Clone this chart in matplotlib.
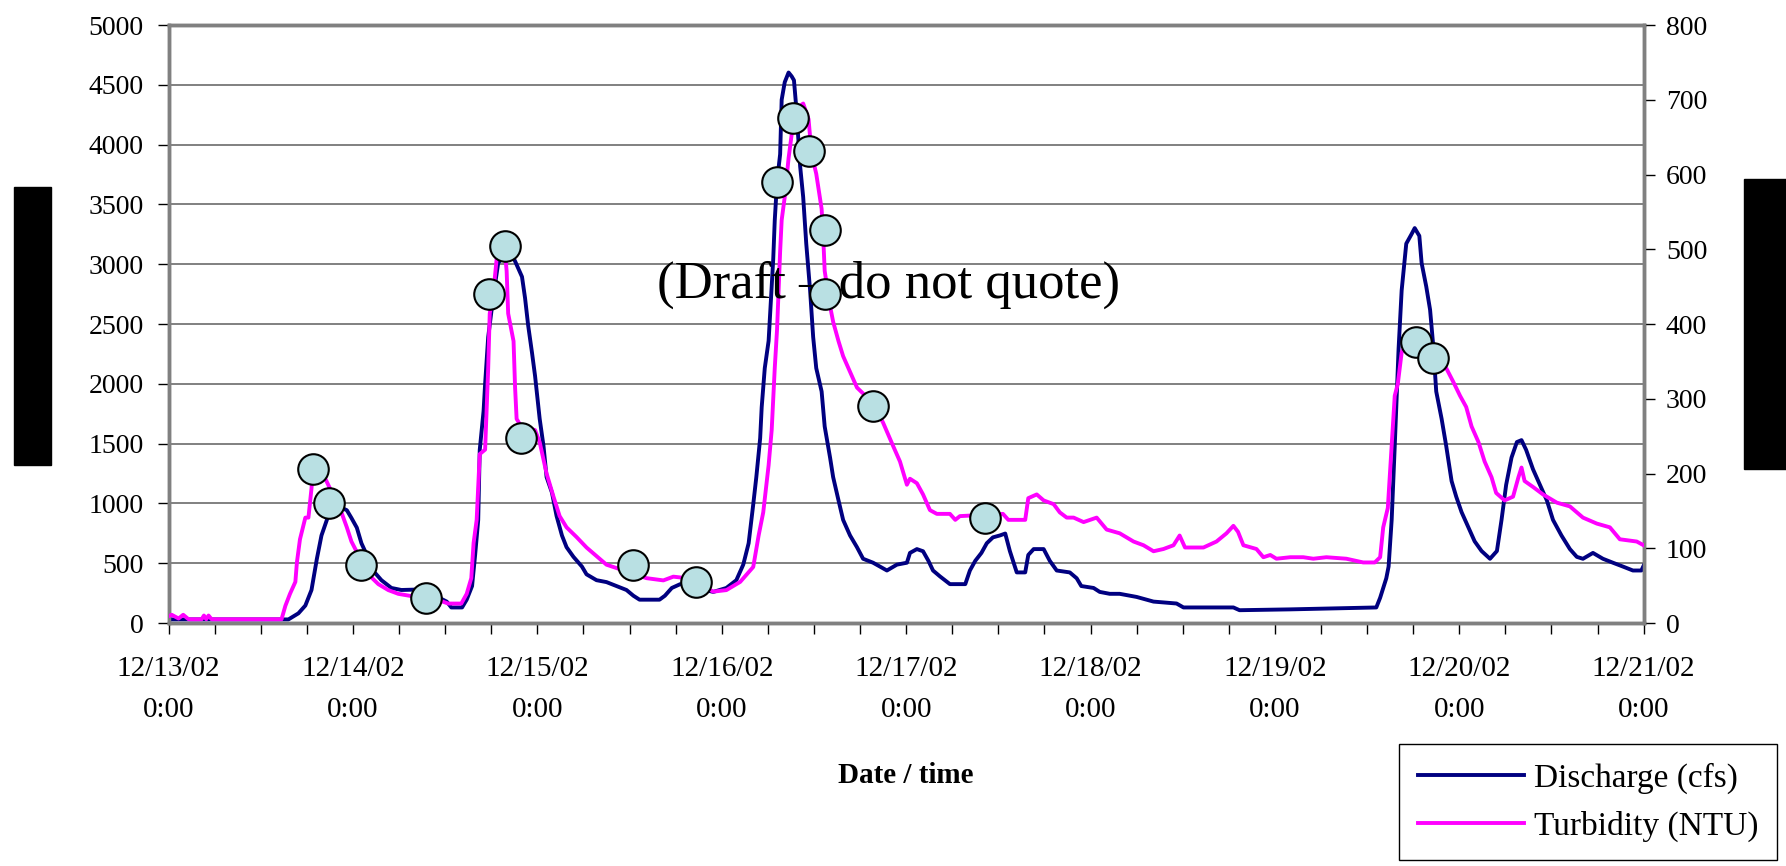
import pandas as pd
import matplotlib
matplotlib.use("Agg")
import matplotlib.pyplot as plt
import matplotlib.dates as mdates
from matplotlib.patches import Rectangle
from matplotlib.ticker import FuncFormatter, MultipleLocator

plt.rcParams['font.family'] = ['Liberation Serif', 'DejaVu Serif']

START = pd.Timestamp('2002-12-13 00:00')

# discharge (cfs), hours after 12/13/02 0:00
q_hours = [0, 14.7, 15.6, 16.9, 17.8, 18.6, 19.3, 19.9, 20.6, 21.0, 22.1, 23.2, 23.8,
           24.5, 25.1, 25.8, 26.6, 27.7, 29.0, 30.3, 32.5, 34.2, 36.2, 36.8, 38.2,
           38.8, 39.5, 39.9, 40.3, 40.5, 41.0, 41.2, 41.6, 42.3, 42.9, 44.3, 45.1,
           46.0, 46.4, 46.8, 47.3, 47.7, 48.3, 48.8, 49.2, 49.9, 50.5, 51.2, 51.8,
           52.7, 53.8, 54.4, 55.7, 57.0, 58.3, 59.6, 60.5, 61.3, 63.9, 64.6, 65.5,
           66.6, 70.9, 72.6, 73.9, 74.8, 75.5, 76.1, 76.5, 77.0, 77.2, 77.6, 78.1,
           78.3, 78.7, 78.9, 79.2, 79.6, 79.8, 80.2, 80.7, 81.1, 81.4, 81.7, 82.2,
           82.6, 83.0, 83.5, 83.9, 84.3, 85.0, 85.4, 86.1, 86.5, 87.2, 87.8, 88.7,
           89.6, 90.4, 91.7, 92.6, 93.5, 94.8, 96.1, 96.5, 97.4, 98.2, 98.9, 99.5,
           100.4, 101.7, 103.7, 104.3, 105.0, 105.8, 106.5, 107.3, 108.2, 108.9,
           109.5, 110.4, 111.5, 111.9, 112.6, 113.9, 114.7, 115.6, 117.3, 118.2,
           118.8, 120.4, 121.2, 122.5, 123.8, 126.0, 128.2, 131.2, 132.1, 138.6,
           139.4, 146.0, 157.2, 157.7, 158.5, 158.8, 159.2, 159.6, 160.1, 160.5,
           161.1, 161.8, 162.2, 162.8, 163.1, 163.7, 164.2, 164.6, 165.0, 165.7,
           166.3, 167.0, 167.6, 168.3, 169.2, 170.0, 170.9, 172.0, 172.9, 173.5,
           174.1, 174.8, 175.5, 176.1, 176.7, 177.6, 178.5, 179.4, 180.2, 181.3,
           182.4, 183.3, 184.1, 185.4, 186.7, 188.0, 189.3, 190.6, 191.7, 192.0]
discharge = [30, 30, 30, 81, 146, 276, 537, 732, 862, 960, 976, 943, 878,
             797, 667, 569, 439, 358, 293, 276, 280, 244, 179, 130, 130,
             195, 309, 569, 862, 1448, 1773, 2000, 2391, 2750, 3009, 3130, 3025,
             2895, 2716, 2489, 2261, 2066, 1708, 1480, 1220, 1090, 895, 732, 634,
             553, 472, 407, 358, 342, 309, 276, 228, 195, 195, 228, 293,
             325, 260, 293, 358, 488, 667, 992, 1220, 1545, 1805, 2131, 2359,
             2586, 3041, 3367, 3692, 3920, 4375, 4522, 4603, 4571, 4538, 4310, 3822,
             3562, 3172, 2781, 2391, 2131, 1936, 1643, 1383, 1220, 1025, 862, 732,
             634, 537, 504, 472, 439, 488, 504, 586, 618, 600, 520, 439,
             390, 325, 325, 439, 520, 586, 667, 716, 732, 748,
             602, 423, 423, 569, 618, 618, 520, 439, 423, 374,
             309, 293, 260, 244, 244, 218, 179, 163, 130, 130,
             107, 114, 130, 211, 374, 472, 862, 1480, 2293, 2781,
             3172, 3253, 3302, 3237, 3009, 2814, 2619, 2326, 1936, 1708,
             1480, 1187, 1057, 927, 797, 683, 602, 537, 602, 862,
             1155, 1383, 1513, 1529, 1448, 1285, 1155, 1025, 862, 732,
             618, 553, 537, 586, 537, 504, 472, 439, 439, 480]

# turbidity (NTU)
t_hours = [0, 0.4, 1.3, 1.9, 2.6, 4.3, 4.6, 4.9, 5.2, 5.6, 14.7, 15.2, 15.8, 16.5,
           16.7, 17.1, 17.8, 18.2, 18.6, 18.8, 19.5, 20.4, 22.5, 23.2, 23.8, 24.7,
           26.0, 27.3, 28.6, 29.9, 31.6, 34.2, 36.4, 38.1, 38.8, 39.4, 39.7, 40.1,
           40.5, 41.2, 41.6, 41.8, 42.3, 42.7, 43.3, 43.7, 44.0, 44.2, 44.9, 45.1,
           45.3, 45.9, 47.7, 48.3, 49.2, 50.1, 50.9, 51.8, 53.1, 54.4, 56.1, 57.0,
           62.2, 64.4, 65.7, 67.4, 70.9, 72.6, 74.4, 76.1, 76.8, 77.4, 78.1, 78.5,
           78.9, 79.2, 79.4, 79.6, 79.8, 80.2, 80.7, 81.3, 82.0, 82.6, 83.3, 83.7,
           84.3, 85.0, 85.2, 85.4, 86.1, 86.5, 87.2, 87.8, 88.7, 89.6, 91.7, 93.0,
           94.3, 95.2, 96.1, 96.5, 97.4, 98.2, 99.1, 100.0, 101.7, 102.4, 103.0,
           108.6, 109.3, 111.5, 111.9, 113.0, 113.9, 115.2, 116.0, 116.9, 117.8,
           119.1, 120.8, 122.1, 123.8, 125.6, 126.9, 128.2, 129.5, 130.8, 131.6,
           132.3, 134.7, 136.4, 137.7, 138.6, 139.2, 139.9, 141.6, 142.5, 143.4,
           144.2, 146.0, 147.7, 149.0, 150.7, 153.3, 155.5, 157.0, 157.7, 158.1,
           158.7, 159.2, 159.6, 160.0, 160.5, 160.9, 162.4, 165.0, 166.3, 167.2,
           168.1, 168.9, 169.6, 170.5, 171.3, 172.2, 172.8, 173.9, 175.0, 175.7,
           176.1, 176.5, 177.6, 178.9, 180.7, 182.4, 184.1, 185.9, 187.6, 188.9,
           191.1, 192.0]
turbidity = [9, 11, 6, 11, 5, 5, 10, 5, 10, 5, 5, 23, 39, 55,
             81, 112, 141, 141, 180, 206, 206, 193, 148, 128, 109, 91,
             65, 52, 44, 39, 36, 34, 26, 26, 39, 60, 107, 138,
             226, 232, 341, 414, 445, 487, 497, 505, 471, 414, 377, 315,
             273, 263, 258, 242, 200, 169, 143, 128, 115, 101, 86, 78,
             60, 57, 62, 60, 42, 44, 55, 75, 117, 148, 211, 258,
             341, 393, 445, 497, 539, 570, 622, 669, 690, 695, 674, 627,
             601, 554, 518, 471, 424, 403, 377, 357, 336, 315, 294, 268,
             237, 216, 185, 193, 187, 172, 151, 146, 146, 138, 143,
             146, 138, 138, 167, 172, 164, 159, 148, 141, 141,
             135, 141, 125, 120, 109, 104, 96, 99, 104, 117,
             101, 101, 109, 120, 130, 122, 104, 99, 88, 91,
             86, 88, 88, 86, 88, 86, 81, 81, 88, 128,
             154, 237, 304, 320, 362, 370, 376, 357, 341, 323,
             304, 289, 263, 242, 216, 195, 174, 164, 169, 195,
             208, 190, 182, 172, 161, 156, 141, 133, 128, 112,
             109, 104]

# sample points (NTU)
s_hours = [18.8, 20.9, 25.0, 33.5, 41.7, 43.8, 45.9, 60.5, 68.7, 79.2, 81.3,
           83.4, 85.5, 85.5, 91.7, 106.3, 162.4, 164.6]
samples = [206, 161, 77, 34, 440, 505, 247, 77, 55, 590, 676,
           632, 526, 440, 290, 141, 376, 354]


def to_time(h):
    return START + pd.to_timedelta(h, unit='h')


fig = plt.figure(figsize=(17.86, 8.66), dpi=100)
ax = fig.add_axes([0.0944, 0.2806, 0.8259, 0.6905])
ax2 = ax.twinx()

l1, = ax.plot(to_time(q_hours), discharge, color='#000080', lw=2.8, zorder=3)
l2, = ax2.plot(to_time(t_hours), turbidity, color='#ff00ff', lw=2.8, zorder=3)
ax2.plot(to_time(s_hours), samples, 'o', ms=22, mfc='#b9e0e3', mec='black',
         mew=1.5, zorder=6)

ax.set_xlim(START, START + pd.Timedelta(days=8))
ax.set_ylim(0, 5000)
ax2.set_ylim(0, 800)
ax.yaxis.set_major_locator(MultipleLocator(500))
ax2.yaxis.set_major_locator(MultipleLocator(100))
ax.grid(axis='y', color='#808080', lw=1.4)
ax.set_axisbelow(True)

ax.xaxis.set_major_locator(mdates.DayLocator())
ax.xaxis.set_minor_locator(mdates.HourLocator(byhour=[6, 12, 18]))
ax.xaxis.set_major_formatter(FuncFormatter(
    lambda x, pos: mdates.num2date(x).strftime('%m/%d/%y') + '\n0:00'))

ax.tick_params(axis='x', which='both', length=8, width=1, color='black',
               labelsize=21, pad=16)
ax.tick_params(axis='y', length=8, width=1, color='black', labelsize=20, pad=10)
ax2.tick_params(axis='y', length=8, width=1, color='black', labelsize=20, pad=8)
for t in ax.get_xticklabels():
    t.set_linespacing(1.75)

for a in (ax, ax2):
    for s in a.spines.values():
        s.set_color('#808080')
        s.set_linewidth(2.5)

ax.set_xlabel('Date / time', fontsize=21, fontweight='bold', labelpad=28)

ax2.text(0.488, 0.565, '(Draft \u2013 do not quote)', transform=ax2.transAxes,
         fontsize=38, ha='center', va='center', zorder=5)

fig.legend([l1, l2], ['Discharge (cfs)', 'Turbidity (NTU)'],
           loc='lower right', bbox_to_anchor=(0.995, 0.007), fontsize=24,
           frameon=True, fancybox=False, edgecolor='black', framealpha=1,
           handlelength=3.2, handletextpad=0.3, labelspacing=0.5,
           borderpad=0.55, borderaxespad=0)

# redacted axis titles
fig.add_artist(Rectangle((0.0077, 0.463), 0.0209, 0.321, transform=fig.transFigure,
                         color='black'))
fig.add_artist(Rectangle((0.9765, 0.4584), 0.0235, 0.335, transform=fig.transFigure,
                         color='black'))

fig.savefig('out.png', dpi=100)
